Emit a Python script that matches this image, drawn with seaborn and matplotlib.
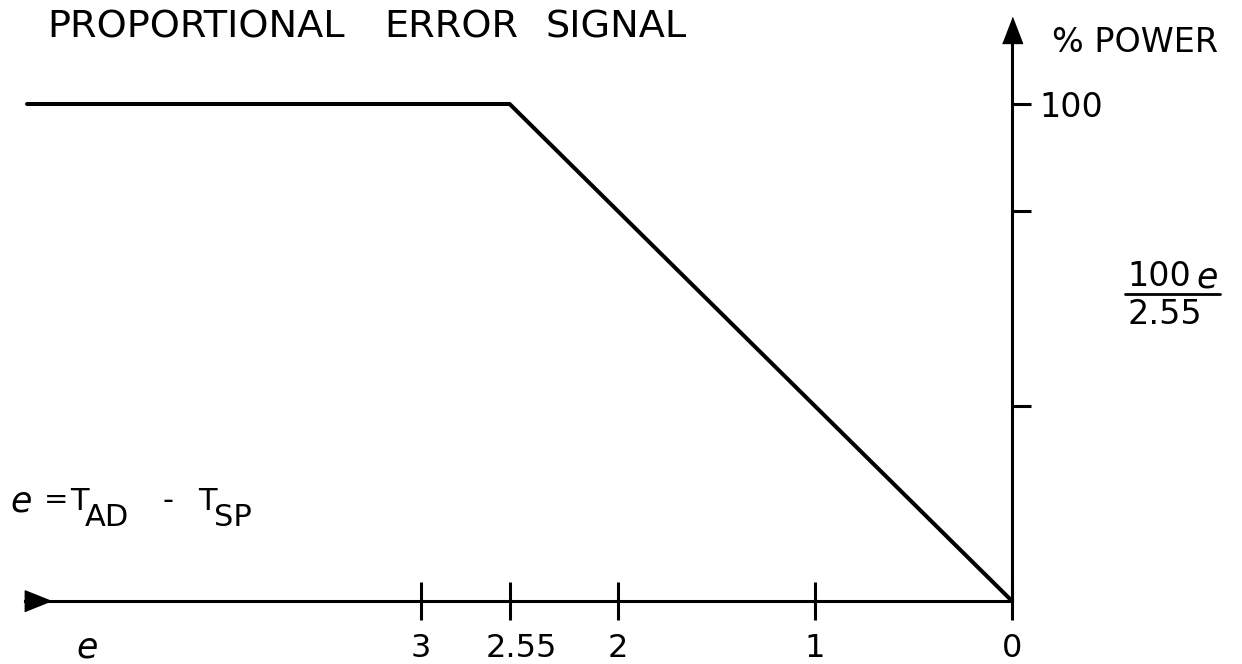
import matplotlib
matplotlib.use("Agg")
import matplotlib.pyplot as plt
import matplotlib.transforms as mtransforms
from matplotlib.lines import Line2D
import seaborn as sns

# Control characteristic: output power vs. error e = T_AD - T_SP
e_points = [0.0, 2.55, 5.0]
power_points = [0.0, 100.0, 100.0]

x_ticks = [3, 2.55, 2, 1, 0]
x_tick_labels = ["3", "2.55", "2", "1", "0"]
y_ticks = [100 * 1 / 2.55, 100 * 2 / 2.55, 100]
y_tick_labels = ["", "", "100"]

sns.set_theme(style="white")
plt.rcParams["font.family"] = ["DejaVu Sans"]

W, H = 1242, 664
fig = plt.figure(figsize=(W / 100, H / 100), dpi=100)
ax = fig.add_axes([0, 0, 1, 1])
ax.set_facecolor("white")

# pixel scale of the drawing
x0_px, x_unit = 1012, 197.0
y0_px, y_unit = 601, 4.97
ax.set_xlim(x0_px / x_unit, (x0_px - W) / x_unit)
ax.set_ylim(-(H - y0_px) / y_unit, y0_px / y_unit)

sns.lineplot(x=e_points, y=power_points, ax=ax, color="black",
             linewidth=2.9, sort=False, legend=False)

# axes as crossing spines
for s in ["top", "left"]:
    ax.spines[s].set_visible(False)
ax.spines["bottom"].set_position(("data", 0))
ax.spines["bottom"].set_bounds(0, 5.01)
ax.spines["right"].set_position(("data", 0))
ax.spines["right"].set_bounds(0, 113)
for s in ["bottom", "right"]:
    ax.spines[s].set_color("black")
    ax.spines[s].set_linewidth(2.2)

ax.yaxis.tick_right()
ax.set_xticks(x_ticks)
ax.set_xticklabels(x_tick_labels)
ax.set_yticks(y_ticks)
ax.set_yticklabels(y_tick_labels)
ax.tick_params(axis="x", direction="inout", length=27, width=2.2, pad=9.5,
               labelsize=23, colors="black", bottom=True, top=False)
ax.tick_params(axis="y", direction="out", length=14, width=2.2, pad=6,
               labelsize=24, colors="black", right=True, left=False,
               labelright=True, labelleft=False)
ax.grid(False)

shift = mtransforms.ScaledTranslation(0.12, 0, fig.dpi_scale_trans)
for lab in ax.get_xticklabels():
    if lab.get_text() == "2.55":
        lab.set_transform(lab.get_transform() + shift)

# arrow heads
up_tri = [(-0.385, -0.5), (0.385, -0.5), (0.0, 0.5)]
right_tri = [(-0.5, -0.4), (-0.5, 0.4), (0.5, 0.0)]
ax.plot([0], [(y0_px - 30) / y_unit], marker=up_tri, ms=18.7,
        color="black", clip_on=False)
ax.plot([(x0_px - 37.5) / x_unit], [0], marker=right_tri, ms=19,
        color="black", clip_on=False)


def fx(x):
    return x / W


def fy(y):
    return 1 - y / H


def put(x, y, s, size, ha="left", style="normal"):
    fig.text(fx(x), fy(y), s, fontsize=size, ha=ha, va="center",
             color="black", style=style)


# title words
put(47, 27, "PROPORTIONAL", 27.5)
put(384, 27, "ERROR", 27.5)
put(545, 27, "SIGNAL", 27.5)

put(1052, 43, "% POWER", 24)

# 100e / 2.55
put(1127, 276, "100", 24)
put(1196, 278, "e", 25, style="italic")
fig.add_artist(Line2D([fx(1125), fx(1220)], [fy(294), fy(294)],
                      color="black", linewidth=2))
put(1127, 314, "2.55", 24)

# e = T_AD - T_SP
put(10, 501, "e", 25, style="italic")
put(44, 500, "=", 21)
put(70, 502, "T", 22)
put(85, 518, "AD", 22)
put(162, 500, "-", 22)
put(198, 502, "T", 22)
put(214, 518, "SP", 22)

# e axis label
put(76, 647, "e", 25, style="italic")

fig.savefig("out.png", dpi=100, facecolor="white")
